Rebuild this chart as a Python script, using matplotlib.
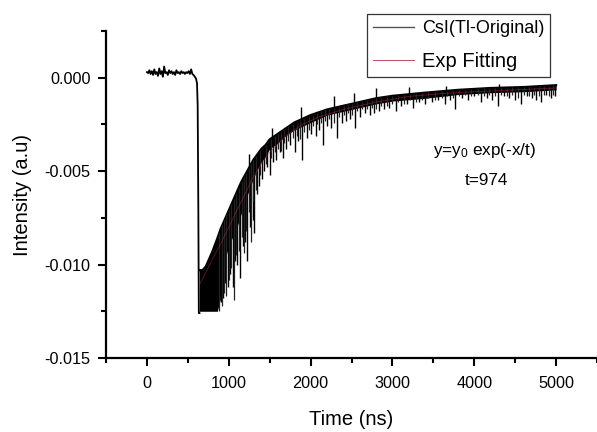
import matplotlib
matplotlib.use("Agg")
import matplotlib.pyplot as plt
from matplotlib.lines import Line2D

plt.rcParams['font.family'] = ['Liberation Sans', 'DejaVu Sans']
plt.rcParams['mathtext.fontset'] = 'custom'
plt.rcParams['mathtext.rm'] = 'Liberation Sans'
plt.rcParams['mathtext.default'] = 'regular'

# pre-pulse baseline and the fall (ns, a.u.)
base_t = [0, 15, 30, 45, 60, 75, 90, 105, 120, 135, 150, 165, 180, 195, 210, 225, 240,
          255, 270, 285, 300, 315, 330, 345, 360, 375, 390, 405, 420, 435, 450, 465, 480,
          495, 510, 525, 540, 555, 570, 585, 600, 612, 620, 628, 634, 642]
base_y = [0.00030, 0.00025, 0.00040, 0.00020, 0.00035, 0.00015, 0.00045, 0.00020, 0.00030,
          0.00010, 0.00050, 0.00020, 0.00035, 0.00005, 0.00060, 0.00025, 0.00030, 0.00015,
          0.00040, 0.00025, 0.00035, 0.00020, 0.00030, 0.00015, 0.00040, 0.00025, 0.00030,
          0.00020, 0.00035, 0.00025, 0.00030, 0.00020, 0.00030, 0.00025, 0.00035, 0.00020,
          0.00045, 0.00020, 0.00015, 0.00005, -0.00005, -0.0003, -0.0015, -0.0070, -0.0126,
          -0.0126]

# dense part of the decaying trace (upper edge / lower edge)
band_t = [640, 680, 720, 760, 800, 860, 900, 950, 1000, 1050, 1100, 1150, 1200, 1250, 1300,
          1350, 1400, 1450, 1500, 1600, 1700, 1800, 1900, 2000, 2200, 2400, 2600, 2800, 3000,
          3400, 3800, 4200, 4600, 5000]
band_hi = [-0.0103, -0.0103, -0.0101, -0.0097, -0.0093, -0.0086, -0.0081, -0.0076, -0.0071,
           -0.0066, -0.0061, -0.0056, -0.0052, -0.0048, -0.0044, -0.0041, -0.0038, -0.0036,
           -0.0033, -0.0030, -0.0027, -0.0024, -0.0022, -0.0020, -0.0017, -0.0015, -0.0013,
           -0.0011, -0.00097, -0.0008, -0.00065, -0.00055, -0.0005, -0.0004]
band_lo = [-0.0125, -0.0125, -0.0125, -0.0125, -0.0125, -0.0125, -0.0118, -0.0098, -0.0090,
           -0.0085, -0.0080, -0.0073, -0.0066, -0.0060, -0.0054, -0.0049, -0.0045, -0.0042,
           -0.0038, -0.0035, -0.0031, -0.0028, -0.0026, -0.0024, -0.0020, -0.0018, -0.0016,
           -0.0014, -0.00125, -0.0011, -0.0009, -0.0008, -0.00075, -0.00065]

# deeper downward noise spikes: position, top, bottom
spike_t = [905, 930, 960, 985, 1010, 1046, 1075, 1100, 1143, 1170, 1200, 1228, 1260, 1290,
           1314, 1345, 1370, 1400, 1430, 1470, 1500, 1540, 1580, 1620, 1660, 1700, 1750, 1810,
           1850, 1900, 1950, 2000, 2060, 2100, 2150, 2200, 2250, 2320, 2380, 2430, 2480, 2540,
           2600, 2660, 2720, 2770, 2830, 2900, 2960, 3040, 3100, 3180, 3250, 3320, 3400, 3480,
           3560, 3640, 3700, 3770, 3850, 3920, 4000, 4080, 4150, 4220, 4290, 4360, 4430, 4500,
           4570, 4640, 4700, 4760, 4820, 4880, 4940, 4990]
spike_hi = [-0.0080, -0.0078, -0.0075, -0.0072, -0.0070, -0.0066, -0.0063, -0.0061, -0.0057,
            -0.0055, -0.0052, -0.0050, -0.0047, -0.0045, -0.0043, -0.0041, -0.0040, -0.0038,
            -0.0037, -0.0035, -0.0033, -0.0032, -0.0031, -0.0030, -0.0028, -0.0027, -0.0026,
            -0.0024, -0.0023, -0.0022, -0.0021, -0.0020, -0.0019, -0.0018, -0.00175, -0.0017,
            -0.00165, -0.0016, -0.0015, -0.00145, -0.0014, -0.00135, -0.0013, -0.00125, -0.0012,
            -0.00115, -0.0011, -0.00105, -0.0010, -0.00095, -0.00093, -0.0009, -0.00086,
            -0.00083, -0.0008, -0.00077, -0.00074, -0.0007, -0.00068, -0.00066, -0.00064,
            -0.00062, -0.0006, -0.00058, -0.00056, -0.00055, -0.00054, -0.00053, -0.00052,
            -0.00051, -0.0005, -0.00049, -0.00047, -0.00046, -0.00045, -0.00043, -0.00042,
            -0.0004]
spike_lo = [-0.0120, -0.0118, -0.0110, -0.0112, -0.0105, -0.0112, -0.0098, -0.0100, -0.0107,
            -0.0090, -0.0088, -0.0098, -0.0080, -0.0076, -0.0083, -0.0062, -0.0058, -0.0054,
            -0.0050, -0.0048, -0.0052, -0.0045, -0.0044, -0.0040, -0.0043, -0.0038, -0.0036,
            -0.0040, -0.0034, -0.0044, -0.0032, -0.0030, -0.0031, -0.0028, -0.0036, -0.0026,
            -0.0027, -0.0032, -0.0024, -0.0023, -0.0022, -0.0027, -0.0021, -0.0019, -0.0020,
            -0.0019, -0.0018, -0.0017, -0.0016, -0.0018, -0.0015, -0.0014, -0.0016, -0.0013,
            -0.0014, -0.0013, -0.0012, -0.0014, -0.0012, -0.0017, -0.0011, -0.0012, -0.0010,
            -0.0013, -0.0011, -0.0012, -0.0015, -0.0010, -0.0011, -0.0012, -0.0014, -0.0010,
            -0.0011, -0.0012, -0.0013, -0.0009, -0.0011, -0.0010]

# shorter spikes in between
fine_t = [880, 920, 945, 972, 997, 1028, 1060, 1088, 1120, 1157, 1185, 1215, 1243, 1275,
          1302, 1330, 1385, 1450, 1520, 1560, 1600, 1640, 1680, 1725, 1780, 1830, 1875, 1925,
          1975, 2030, 2080, 2125, 2175, 2225, 2285, 2350, 2405, 2455, 2510, 2570, 2630, 2690,
          2745, 2800, 2865, 2930, 3000, 3070, 3140, 3215, 3285, 3360, 3440, 3520, 3600, 3670,
          3735, 3810, 3885, 3960, 4040, 4115, 4185, 4255, 4325, 4395, 4465, 4535, 4605, 4670,
          4730, 4790, 4850, 4910, 4965]
fine_hi = [-0.0083, -0.0079, -0.0076, -0.0073, -0.0071, -0.0068, -0.0065, -0.0062, -0.0059,
           -0.0056, -0.0053, -0.0051, -0.0049, -0.0046, -0.0044, -0.0042, -0.0039, -0.0036,
           -0.0033, -0.0031, -0.0030, -0.0029, -0.0028, -0.0026, -0.0025, -0.0024, -0.0023,
           -0.0022, -0.0021, -0.0020, -0.0019, -0.0018, -0.0017, -0.0017, -0.0016, -0.0016,
           -0.0015, -0.0014, -0.0014, -0.0013, -0.0013, -0.0012, -0.0012, -0.0011, -0.0011,
           -0.0010, -0.0010, -0.00094, -0.00092, -0.00088, -0.00085, -0.00082, -0.00078,
           -0.00076, -0.00072, -0.0007, -0.00067, -0.00065, -0.00063, -0.00061, -0.00059,
           -0.00057, -0.00056, -0.00055, -0.00054, -0.00053, -0.00052, -0.00051, -0.0005,
           -0.00048, -0.00047, -0.00046, -0.00044, -0.00043, -0.00041]
fine_lo = [-0.0125, -0.0122, -0.0115, -0.0117, -0.0108, -0.0102, -0.0119, -0.0095, -0.0093,
           -0.0085, -0.0094, -0.0082, -0.0072, -0.0088, -0.0066, -0.0060, -0.0052, -0.0046,
           -0.0043, -0.0040, -0.0038, -0.0039, -0.0035, -0.0034, -0.0032, -0.0031, -0.0033,
           -0.0029, -0.0028, -0.0026, -0.0025, -0.0024, -0.0023, -0.0022, -0.0024, -0.0021,
           -0.0020, -0.0019, -0.0020, -0.0018, -0.0017, -0.0017, -0.0016, -0.0017, -0.0015,
           -0.0015, -0.0014, -0.0013, -0.0014, -0.0012, -0.0013, -0.0012, -0.0011, -0.0012,
           -0.0011, -0.0010, -0.0011, -0.0010, -0.0009, -0.0010, -0.0009, -0.0010, -0.0009,
           -0.0010, -0.0009, -0.0010, -0.0009, -0.0011, -0.0009, -0.0010, -0.0009, -0.0010,
           -0.0009, -0.0010, -0.0009]

# a few upward spikes
up_t = [1250, 1530, 1880, 2290, 2530, 2800, 3200, 3650, 4300]
up_lo = [-0.0048, -0.0032, -0.0022, -0.0016, -0.0014, -0.0011, -0.0009, -0.0007, -0.00055]
up_hi = [-0.0041, -0.0027, -0.00155, -0.0010, -0.0008, -0.00054, -0.00048, -0.00045, -0.00035]

# exponential fit
fit_t = [650, 700, 800, 900, 1000, 1100, 1200, 1300, 1400, 1500, 1700, 1900, 2100, 2400,
         2800, 3200, 3600, 4000, 4500, 5000]
fit_y = [-0.0110, -0.0106, -0.0097, -0.0089, -0.0080, -0.0071, -0.0062, -0.0053, -0.0046,
         -0.0040, -0.0031, -0.0025, -0.0021, -0.0017, -0.0013, -0.0010, -0.00085, -0.00075,
         -0.00065, -0.00055]

fig = plt.figure(figsize=(5.97, 4.32), dpi=100)
ax = fig.add_axes([0.1776, 0.1713, 0.8224, 0.7569])

ax.plot(base_t, base_y, color='black', lw=1.3)
ax.fill_between(band_t, band_lo, band_hi, color='black', lw=0)
ax.plot(band_t, band_hi, color='black', lw=1.6)
ax.vlines(spike_t, spike_lo, spike_hi, color='black', lw=1.0)
ax.vlines(fine_t, fine_lo, fine_hi, color='#222222', lw=0.9)
ax.vlines(up_t, up_lo, up_hi, color='black', lw=1.0)
ax.plot(fit_t, fit_y, color='#c03040', lw=0.6, alpha=0.5)

ax.set_xlim(-500, 5500)
ax.set_ylim(-0.015, 0.0025)
ax.set_xticks([0, 1000, 2000, 3000, 4000, 5000])
ax.set_xticks([-500, 500, 1500, 2500, 3500, 4500, 5500], minor=True)
ax.set_yticks([-0.015, -0.010, -0.005, 0.000])
ax.set_yticks([-0.0125, -0.0075, -0.0025, 0.0025], minor=True)
ax.set_yticklabels(['-0.015', '-0.010', '-0.005', '0.000'])

for side in ['top', 'right']:
    ax.spines[side].set_visible(False)
for side in ['left', 'bottom']:
    ax.spines[side].set_linewidth(1.6)
ax.tick_params(which='major', length=6, width=1.5, labelsize=11.7)
ax.tick_params(which='minor', length=3.5, width=1.5)
ax.tick_params(axis='x', which='major', pad=7)
ax.tick_params(axis='y', which='major', pad=5)

ax.set_xlabel('Time (ns)', fontsize=14.5, labelpad=14)
ax.set_ylabel('Intensity (a.u)', fontsize=14.5, labelpad=9)

ax.text(4124, -0.00392, 'y=y$_0$ exp(-x/t)', fontsize=12.3, ha='center', va='center')
ax.text(4148, -0.00548, 't=974', fontsize=12.3, ha='center', va='center')

handles = [Line2D([], [], color='#555555', lw=1.0),
           Line2D([], [], color='#b03040', lw=0.6)]
leg = ax.legend(handles, ['CsI(Tl-Original)', 'Exp Fitting'], loc='upper right',
                bbox_to_anchor=(0.905, 1.052), fontsize=13, frameon=True, fancybox=False,
                edgecolor='#333333', framealpha=1, borderpad=0.35, labelspacing=0.8,
                handlelength=2.3, handletextpad=0.4, borderaxespad=0)
leg.get_frame().set_linewidth(0.9)
leg.get_texts()[1].set_fontsize(14.5)

fig.savefig('out.png', dpi=100)
